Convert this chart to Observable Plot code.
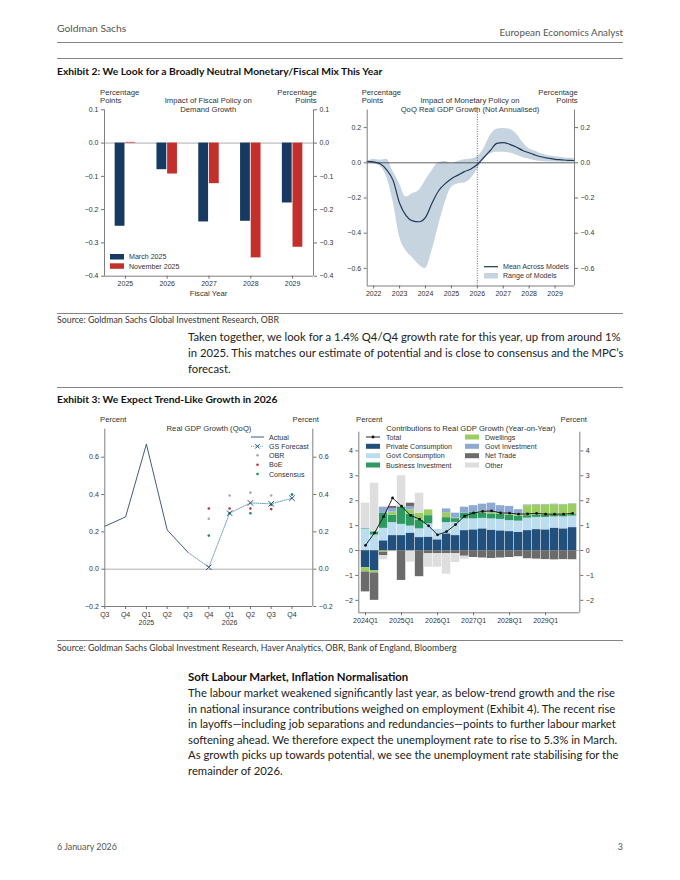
<!DOCTYPE html>
<html>
<head>
<meta charset="utf-8">
<script src="https://cdn.jsdelivr.net/npm/d3@7"></script>
<script src="https://cdn.jsdelivr.net/npm/@observablehq/plot@0.6"></script>
<style>
html,body{margin:0;padding:0;background:#fff;}
#page{position:relative;width:680px;height:880px;overflow:hidden;background:#fff;}
.chart{position:absolute;}
</style>
</head>
<body>
<div id="page"></div>
<script>
// ================= DATA =================
// Exhibit 2, left: Impact of Fiscal Policy on Demand Growth (pp)
const fiscalYears = [2025, 2026, 2027, 2028, 2029];
const fiscalMarch2025 = [-0.25, -0.08, -0.237, -0.235, -0.18];
const fiscalNov2025 = [0.002, -0.093, -0.122, -0.345, -0.313];
const fiscalYTicks = [0.1, 0, -0.1, -0.2, -0.3, -0.4];

// Exhibit 2, right: Impact of Monetary Policy on QoQ Real GDP Growth (pp)
const monDates = [2021.75, 2022, 2022.25, 2022.5, 2022.75, 2023, 2023.25, 2023.5, 2023.75,
  2024, 2024.25, 2024.5, 2024.75, 2025, 2025.25, 2025.5, 2025.75,
  2026, 2026.25, 2026.5, 2026.75, 2027, 2027.25, 2027.5, 2027.75,
  2028, 2028.25, 2028.5, 2028.75, 2029, 2029.25, 2029.5, 2029.75];
const monMean = [0.008, 0.005, -0.005, -0.04, -0.10, -0.23, -0.30, -0.33, -0.335,
  -0.31, -0.23, -0.16, -0.12, -0.09, -0.07, -0.05, -0.035,
  -0.01, 0.03, 0.07, 0.11, 0.115, 0.105, 0.09, 0.07,
  0.057, 0.043, 0.033, 0.026, 0.02, 0.017, 0.014, 0.013];
const monLow = [0.0, -0.005, -0.02, -0.08, -0.22, -0.42, -0.50, -0.54, -0.58,
  -0.60, -0.50, -0.36, -0.23, -0.14, -0.12, -0.115, -0.09,
  -0.04, 0.02, 0.05, 0.06, 0.06, 0.055, 0.045, 0.03,
  0.02, 0.012, 0.008, 0.005, 0.004, 0.003, 0.003, 0.003];
const monHigh = [0.005, 0.02, 0.015, 0.02, -0.05, -0.12, -0.195, -0.175, -0.157,
  -0.10, -0.045, 0.0, 0.007, -0.005, 0.007, 0.017, 0.022,
  0.035, 0.08, 0.155, 0.19, 0.195, 0.19, 0.165, 0.117,
  0.08, 0.066, 0.05, 0.04, 0.034, 0.03, 0.026, 0.025];
const monYearTicks = [2022, 2023, 2024, 2025, 2026, 2027, 2028, 2029];
const monYTicks = [0.2, 0, -0.2, -0.4, -0.6];

// Exhibit 3, left: Real GDP Growth (QoQ, %)
const gdpQuarterLabels = ["Q3", "Q4", "Q1\n2025", "Q2", "Q3", "Q4", "Q1\n2026", "Q2", "Q3", "Q4"];
const gdpActualIdx = [0, 1, 2, 3, 4];
const gdpActual = [0.23, 0.28, 0.67, 0.21, 0.09];
const gdpForecastIdx = [5, 6, 7, 8, 9];
const gdpGSForecast = [0.01, 0.30, 0.355, 0.35, 0.38];
const gdpOBR = [0.27, 0.395, 0.41, 0.395, 0.40];
const gdpBoEIdx = [5, 6, 7, 8];
const gdpBoE = [0.325, 0.325, 0.325, 0.322];
const gdpConsensus = [0.18, 0.30, 0.30, 0.345, 0.40];
const gdpYTicks = [0.6, 0.4, 0.2, 0, -0.2];

// Exhibit 3, right: Contributions to Real GDP Growth (YoY, pp)
const contribQuarters = ["2024Q1","2024Q2","2024Q3","2024Q4","2025Q1","2025Q2","2025Q3","2025Q4",
  "2026Q1","2026Q2","2026Q3","2026Q4","2027Q1","2027Q2","2027Q3","2027Q4",
  "2028Q1","2028Q2","2028Q3","2028Q4","2029Q1","2029Q2","2029Q3","2029Q4"];
const contribComponents = ["Private Consumption", "Govt Consumption", "Business Investment",
  "Dwellings", "Govt Investment", "Net Trade", "Other"];
const contribPrivateCons = [-0.69, -0.82, 0.39, 0.60, 0.60, 0.70, 0.52, 0.54, 0.43, 0.67, 0.60, 0.80,
  0.83, 0.87, 0.82, 0.79, 0.76, 0.73, 0.80, 0.84, 0.83, 0.90, 0.87, 0.92];
const contribGovtCons = [0.86, 0.62, 0.50, 0.52, 0.45, 0.28, 0.35, 0.53, 0.42, 0.45, 0.53, 0.47,
  0.44, 0.42, 0.45, 0.46, 0.44, 0.45, 0.50, 0.49, 0.50, 0.45, 0.48, 0.46];
const contribBusInv = [0.02, 0.13, 0.60, 0.30, 0.70, 0.48, 0.35, 0.33, 0.00, 0.20, 0.15, 0.23,
  0.27, 0.22, 0.20, 0.20, 0.22, 0.20, 0.10, 0.08, 0.08, 0.07, 0.07, 0.06];
const contribDwellings = [-0.17, -0.08, -0.07, 0.12, 0.00, 0.17, 0.28, 0.23, 0.00, 0.20, 0.02, 0.00,
  0.00, 0.05, 0.05, 0.05, 0.05, 0.06, 0.40, 0.42, 0.42, 0.42, 0.41, 0.42];
const contribGovtInv = [0.02, 0.00, 0.25, 0.15, 0.00, 0.12, 0.00, 0.00, 0.00, 0.15, 0.20, 0.24,
  0.26, 0.30, 0.38, 0.30, 0.30, 0.20, 0.03, 0.02, 0.02, 0.02, 0.02, 0.02];
const contribNetTrade = [-0.80, -1.10, -0.13, 0.08, -1.20, 0.15, -1.05, -0.13, -0.12, -0.12, -0.13, -0.23,
  -0.28, -0.30, -0.32, -0.30, -0.28, -0.25, -0.33, -0.35, -0.36, -0.38, -0.36, -0.37];
const contribOther = [1.00, 1.95, -0.17, -0.05, 1.25, -0.47, 0.80, -0.54, -0.55, -0.83, -0.35, -0.12,
  0, 0, 0, 0, 0, 0, -0.02, -0.02, -0.02, -0.02, -0.02, -0.02];
const contribTotal = [0.21, 0.71, 1.36, 2.11, 1.78, 1.41, 1.26, 0.99, 0.63, 0.76, 1.04, 1.38,
  1.51, 1.57, 1.59, 1.51, 1.50, 1.46, 1.47, 1.49, 1.46, 1.46, 1.46, 1.49];
const contribYTicks = [4, 3, 2, 1, 0, -1, -2];

// Page text
const headerLeft = "Goldman Sachs";
const headerRight = "European Economics Analyst";
const exhibit2Title = "Exhibit 2: We Look for a Broadly Neutral Monetary/Fiscal Mix This Year";
const source1 = "Source: Goldman Sachs Global Investment Research, OBR";
const para1 = [
  "Taken together, we look for a 1.4% Q4/Q4 growth rate for this year, up from around 1%",
  "in 2025. This matches our estimate of potential and is close to consensus and the MPC\u2019s",
  "forecast."
];
const exhibit3Title = "Exhibit 3: We Expect Trend-Like Growth in 2026";
const source2 = "Source: Goldman Sachs Global Investment Research, Haver Analytics, OBR, Bank of England, Bloomberg";
const heading2 = "Soft Labour Market, Inflation Normalisation";
const para2 = [
  "The labour market weakened significantly last year, as below-trend growth and the rise",
  "in national insurance contributions weighed on employment (Exhibit 4). The recent rise",
  "in layoffs\u2014including job separations and redundancies\u2014points to further labour market",
  "softening ahead. We therefore expect the unemployment rate to rise to 5.3% in March.",
  "As growth picks up towards potential, we see the unemployment rate stabilising for the",
  "remainder of 2026."
];
const footerLeft = "6 January 2026";
const footerRight = "3";

// ================= STYLE =================
const chartFont = '"Liberation Sans", Arial, Helvetica, sans-serif';
const pageFont = 'Lato, "Open Sans", sans-serif';
const axisStroke = "#707070";
const textCol = "#333";
const navy = "#173a63";
const red = "#c3302c";
const compColors = ["#22507d", "#bcdcf0", "#2e9a62", "#9bcd62", "#8eaad2", "#6b6b6b", "#dedede"];
const tickFont = 7, titleFont = 7.7, legendFont = 7.1;

const page = document.getElementById("page");
function place(svg, left, top) {
  const d = document.createElement("div");
  d.className = "chart";
  d.style.left = left + "px";
  d.style.top = top + "px";
  d.appendChild(svg);
  page.appendChild(d);
}
const baseStyle = {fontFamily: chartFont, fontSize: tickFont + "px", color: textCol, background: "none", overflow: "visible"};
const f1 = d3.format(".1f");
const fd = d3.format("d");
function axes(yTicks, yFmt) {
  return [
    Plot.axisY({anchor: "left", ticks: yTicks, tickFormat: yFmt, tickSize: 3, tickPadding: 3, stroke: axisStroke, fill: textCol, label: null}),
    Plot.axisY({anchor: "right", ticks: yTicks, tickFormat: yFmt, tickSize: 3, tickPadding: 3, stroke: axisStroke, fill: textCol, label: null})
  ];
}

// ---------- Chart 1: Fiscal ----------
const fiscalXDomain = [2024.5, 2029.5];
const fiscalYDomain = [-0.4, 0.1];
const march = fiscalYears.map((y, i) => ({year: y, value: fiscalMarch2025[i]}));
const nov = fiscalYears.map((y, i) => ({year: y, value: fiscalNov2025[i]}));
place(Plot.plot({
  width: 283, height: 215,
  marginLeft: 47, marginRight: 27, marginTop: 24.3, marginBottom: 24.3,
  style: baseStyle,
  x: {domain: fiscalXDomain},
  y: {domain: fiscalYDomain},
  marks: [
    Plot.ruleY([0], {stroke: "#9a9a9a", strokeWidth: 0.8}),
    Plot.rectY(march, {x1: d => d.year - 0.245, x2: d => d.year - 0.01, y1: 0, y2: "value", fill: navy}),
    Plot.rectY(nov, {x1: d => d.year + 0.01, x2: d => d.year + 0.245, y1: 0, y2: "value", fill: red}),
    Plot.ruleX(fiscalXDomain, {stroke: axisStroke, strokeWidth: 0.9}),
    Plot.ruleY([fiscalYDomain[0]], {stroke: axisStroke, strokeWidth: 0.9}),
    ...axes(fiscalYTicks, f1),
    Plot.axisX({anchor: "bottom", ticks: fiscalYears, tickFormat: fd, tickSize: 3, tickPadding: 2, stroke: axisStroke, fill: textCol, label: null})
  ]
}), 57, 85);

// ---------- Chart 2: Monetary ----------
const monXDomain = [2021.75, 2029.75];
const monYDomain = [-0.7, 0.3];
const mon = monDates.map((t, i) => ({t, mean: monMean[i], low: monLow[i], high: monHigh[i]}));
place(Plot.plot({
  width: 260, height: 215,
  marginLeft: 26.7, marginRight: 26, marginTop: 24.5, marginBottom: 14.5,
  style: baseStyle,
  x: {domain: monXDomain},
  y: {domain: monYDomain},
  marks: [
    Plot.areaY(mon, {x: "t", y1: "low", y2: "high", fill: "#c6d4e0", curve: "monotone-x"}),
    Plot.ruleY([0], {stroke: "#3a3a3a", strokeWidth: 0.8}),
    Plot.ruleX([2026], {stroke: "#444", strokeWidth: 0.8, strokeDasharray: "1,1.4"}),
    Plot.lineY(mon, {x: "t", y: "mean", stroke: "#1f3857", strokeWidth: 1.2, curve: "monotone-x"}),
    Plot.ruleX(monXDomain, {stroke: axisStroke, strokeWidth: 0.9}),
    Plot.ruleY([monYDomain[0]], {stroke: axisStroke, strokeWidth: 0.9}),
    ...axes(monYTicks, f1),
    Plot.axisX({anchor: "bottom", ticks: monYearTicks, tickFormat: fd, tickSize: 3, tickPadding: 2, stroke: axisStroke, fill: textCol, label: null})
  ]
}), 340, 85);

// ---------- Chart 3: Real GDP QoQ ----------
const gdpXDomain = [0, 10];
const gdpYDomain = [-0.2, 0.75];
const actualData = gdpActualIdx.map((i, k) => ({i, v: gdpActual[k]}));
const gsData = gdpForecastIdx.map((i, k) => ({i, v: gdpGSForecast[k]}));
const gsLine = [actualData[actualData.length - 1], ...gsData];
const obrData = gdpForecastIdx.map((i, k) => ({i, v: gdpOBR[k]}));
const boeData = gdpBoEIdx.map((i, k) => ({i, v: gdpBoE[k]}));
const consData = gdpForecastIdx.map((i, k) => ({i, v: gdpConsensus[k]}));
place(Plot.plot({
  width: 283, height: 220,
  marginLeft: 47.3, marginRight: 27.7, marginTop: 18.7, marginBottom: 24,
  style: baseStyle,
  x: {domain: gdpXDomain},
  y: {domain: gdpYDomain},
  marks: [
    Plot.ruleY([0], {stroke: "#9a9a9a", strokeWidth: 0.8}),
    Plot.line(actualData, {x: "i", y: "v", stroke: "#2b4a70", strokeWidth: 0.9}),
    Plot.line(gsLine, {x: "i", y: "v", stroke: "#5b90b8", strokeWidth: 0.9, strokeDasharray: "1,1.2"}),
    Plot.dot(obrData, {x: "i", y: "v", r: 1.3, fill: "#a9a9a9"}),
    Plot.dot(boeData, {x: "i", y: "v", r: 1.3, fill: "#c0303a"}),
    Plot.dot(consData, {x: "i", y: "v", r: 1.3, fill: "#1f8a5a"}),
    Plot.dot(gsData, {x: "i", y: "v", symbol: "times", r: 2.6, stroke: "#24507a", strokeWidth: 1}),
    Plot.ruleX(gdpXDomain, {stroke: axisStroke, strokeWidth: 0.9}),
    Plot.ruleY([gdpYDomain[0]], {stroke: axisStroke, strokeWidth: 0.9}),
    ...axes(gdpYTicks, f1),
    Plot.axisX({anchor: "bottom", ticks: d3.range(gdpQuarterLabels.length), tickFormat: i => gdpQuarterLabels[i], tickSize: 3, tickPadding: 2, lineHeight: 1.15, stroke: axisStroke, fill: textCol, label: null})
  ]
}), 57, 410);

// ---------- Chart 4: Contributions ----------
const contribXDomain = [-0.75, 23.8];
const contribYDomain = [-2.5, 4.75];
const contribSeries = [contribPrivateCons, contribGovtCons, contribBusInv, contribDwellings, contribGovtInv, contribNetTrade, contribOther];
const contribData = contribComponents.flatMap((c, k) => contribQuarters.map((q, i) => ({i, q, c, v: contribSeries[k][i]})));
const totalData = contribQuarters.map((q, i) => ({i, q, v: contribTotal[i]}));
const contribTicks = contribQuarters.map((q, i) => i).filter(i => contribQuarters[i].endsWith("Q1"));
place(Plot.plot({
  width: 260, height: 220,
  marginLeft: 18.3, marginRight: 20.7, marginTop: 21.7, marginBottom: 17.7,
  style: baseStyle,
  x: {domain: contribXDomain},
  y: {domain: contribYDomain},
  color: {domain: contribComponents, range: compColors},
  marks: [
    Plot.rectY(contribData, {x: "i", x1: d => d.i - 0.47, x2: d => d.i + 0.47, y: "v", fill: "c"}),
    Plot.ruleY([0], {stroke: "#8a8a8a", strokeWidth: 0.5}),
    Plot.lineY(totalData, {x: "i", y: "v", stroke: "#111", strokeWidth: 0.9}),
    Plot.dot(totalData, {x: "i", y: "v", r: 1.4, fill: "#111"}),
    Plot.ruleX(contribXDomain, {stroke: axisStroke, strokeWidth: 0.9}),
    Plot.ruleY([contribYDomain[0]], {stroke: axisStroke, strokeWidth: 0.9}),
    ...axes(contribYTicks, fd),
    Plot.axisX({anchor: "bottom", ticks: contribTicks, tickFormat: i => contribQuarters[i], tickSize: 3, tickPadding: 2, stroke: axisStroke, fill: textCol, label: null})
  ]
}), 340, 410);

// ================= OVERLAY TEXT =================
const ov = d3.select(page).append("svg")
  .attr("width", 680).attr("height", 880)
  .style("position", "absolute").style("left", "0px").style("top", "0px").style("pointer-events", "none");
function T(x, y, s, o = {}) {
  ov.append("text").attr("x", x).attr("y", y)
    .attr("text-anchor", o.a || "start")
    .attr("font-family", o.f || chartFont)
    .attr("font-size", o.s || legendFont)
    .attr("font-weight", o.w || 400)
    .attr("fill", o.c || textCol)
    .text(s);
}
function HR(y) {
  ov.append("line").attr("x1", 57).attr("x2", 623).attr("y1", y).attr("y2", y).attr("stroke", "#666").attr("stroke-width", 0.8);
}

// header/footer and page text
T(57, 32, headerLeft, {f: pageFont, s: 10.3, c: "#555"});
T(623, 36, headerRight, {f: pageFont, s: 9.8, c: "#555", a: "end"});
HR(42.5); HR(58.5);
T(57, 74.5, exhibit2Title, {f: pageFont, s: 10.3, w: 700, c: "#111"});
HR(313.5);
T(57, 322.5, source1, {f: pageFont, s: 8.8, c: "#333"});
para1.forEach((l, k) => T(188, 341 + 16 * k, l, {f: pageFont, s: 11.3, c: "#222"}));
HR(387.5);
T(57, 402.5, exhibit3Title, {f: pageFont, s: 10.3, w: 700, c: "#111"});
HR(640.5);
T(57, 650.5, source2, {f: pageFont, s: 8.8, c: "#333"});
T(188, 681, heading2, {f: pageFont, s: 11.4, w: 700, c: "#111"});
para2.forEach((l, k) => T(188, 697 + 15.6 * k, l, {f: pageFont, s: 11.3, c: "#222"}));
T(57, 850, footerLeft, {f: pageFont, s: 8.9, c: "#555"});
T(623, 850, footerRight, {f: pageFont, s: 8.9, c: "#555", a: "end"});

const TT = {s: titleFont};
// Chart 1 labels
T(100, 94.8, "Percentage", TT); T(100, 103.2, "Points", TT);
T(316.7, 94.8, "Percentage", {...TT, a: "end"}); T(316.7, 103.2, "Points", {...TT, a: "end"});
T(208.3, 103.2, "Impact of Fiscal Policy on", {...TT, a: "middle"});
T(208.3, 111.5, "Demand Growth", {...TT, a: "middle"});
T(208.5, 296, "Fiscal Year", {...TT, a: "middle"});
ov.append("rect").attr("x", 110).attr("y", 254).attr("width", 14).attr("height", 5.5).attr("fill", navy);
ov.append("rect").attr("x", 110).attr("y", 263.3).attr("width", 14).attr("height", 5.5).attr("fill", red);
T(129, 259.2, "March 2025"); T(129, 268.5, "November 2025");

// Chart 2 labels
T(361.7, 94.8, "Percentage", TT); T(361.7, 103.2, "Points", TT);
T(577.7, 94.8, "Percentage", {...TT, a: "end"}); T(577.7, 103.2, "Points", {...TT, a: "end"});
T(470, 103.2, "Impact of Monetary Policy on", {...TT, a: "middle"});
T(470, 111.5, "QoQ Real GDP Growth (Not Annualised)", {...TT, a: "middle"});
ov.append("line").attr("x1", 484).attr("x2", 498).attr("y1", 266.7).attr("y2", 266.7).attr("stroke", "#1f3857").attr("stroke-width", 1.2);
ov.append("rect").attr("x", 484).attr("y", 273).attr("width", 14).attr("height", 5.5).attr("fill", "#c6d4e0");
T(503, 269.2, "Mean Across Models"); T(503, 278.2, "Range of Models");

// Chart 3 labels
T(100, 421.5, "Percent", TT); T(319, 421.5, "Percent", {...TT, a: "end"});
T(209, 430.5, "Real GDP Growth (QoQ)", {...TT, a: "middle"});
const lg3 = [439.5, 448.8, 457.8, 467.2, 476.5];
ov.append("line").attr("x1", 251).attr("x2", 264).attr("y1", lg3[0] - 2.5).attr("y2", lg3[0] - 2.5).attr("stroke", "#2b4a70").attr("stroke-width", 0.9);
ov.append("line").attr("x1", 251).attr("x2", 264).attr("y1", lg3[1] - 2.5).attr("y2", lg3[1] - 2.5).attr("stroke", "#5b90b8").attr("stroke-width", 0.9).attr("stroke-dasharray", "1,1.2");
ov.append("path").attr("d", `M255.3,${lg3[1]-4.7}l4.4,4.4M255.3,${lg3[1]-0.3}l4.4,-4.4`).attr("stroke", "#24507a").attr("stroke-width", 1);
ov.append("circle").attr("cx", 257.5).attr("cy", lg3[2] - 2.5).attr("r", 1.3).attr("fill", "#a9a9a9");
ov.append("circle").attr("cx", 257.5).attr("cy", lg3[3] - 2.5).attr("r", 1.3).attr("fill", "#c0303a");
ov.append("circle").attr("cx", 257.5).attr("cy", lg3[4] - 2.5).attr("r", 1.3).attr("fill", "#1f8a5a");
["Actual", "GS Forecast", "OBR", "BoE", "Consensus"].forEach((s, k) => T(269, lg3[k], s));

// Chart 4 labels
T(356, 421.5, "Percent", TT); T(587, 421.5, "Percent", {...TT, a: "end"});
T(471, 430.5, "Contributions to Real GDP Growth (Year-on-Year)", {...TT, a: "middle"});
const lg4 = [439.5, 448.8, 458.2, 467.5];
ov.append("line").attr("x1", 366).attr("x2", 380).attr("y1", lg4[0] - 2.5).attr("y2", lg4[0] - 2.5).attr("stroke", "#111").attr("stroke-width", 0.9);
ov.append("circle").attr("cx", 373).attr("cy", lg4[0] - 2.5).attr("r", 1.4).attr("fill", "#111");
T(386, lg4[0], "Total");
const col1 = [0, 1, 2], col2 = [3, 4, 5, 6];
col1.forEach((k, r) => {
  ov.append("rect").attr("x", 366).attr("y", lg4[r + 1] - 5).attr("width", 14).attr("height", 5).attr("fill", compColors[k]);
  T(386, lg4[r + 1], contribComponents[k]);
});
col2.forEach((k, r) => {
  ov.append("rect").attr("x", 465).attr("y", lg4[r] - 5).attr("width", 14).attr("height", 5).attr("fill", compColors[k]);
  T(485, lg4[r], contribComponents[k]);
});
</script>
</body>
</html>
